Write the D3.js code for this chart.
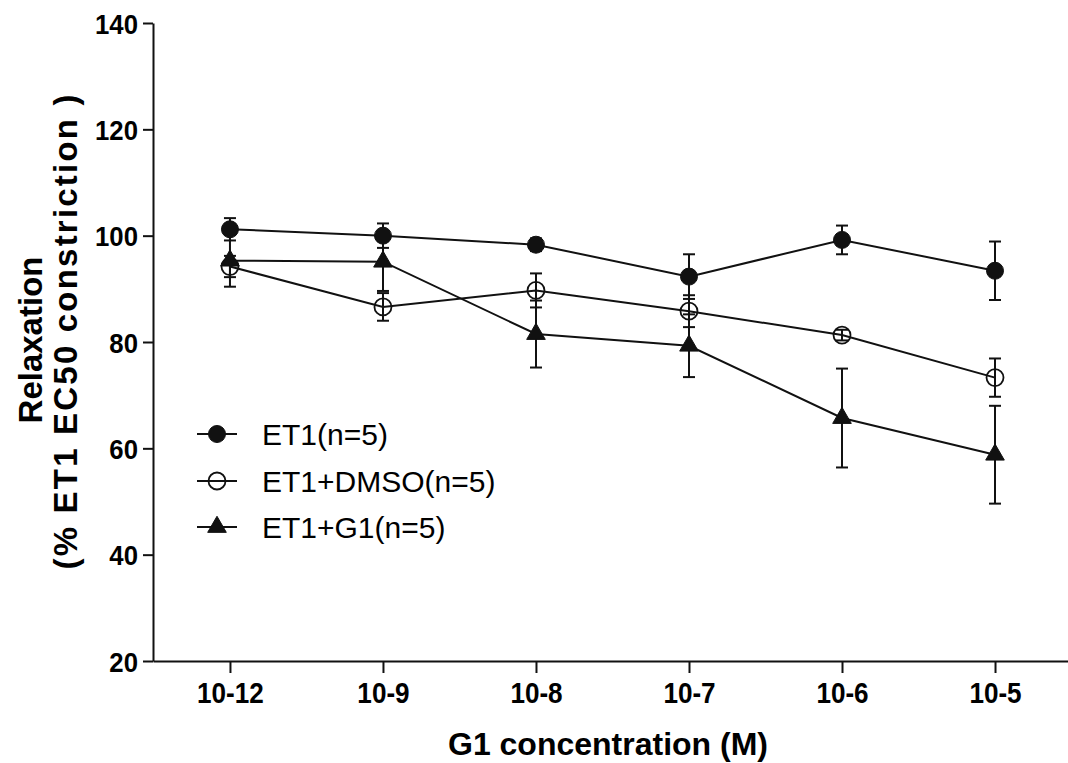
<!DOCTYPE html>
<html><head><meta charset="utf-8">
<script src="https://cdn.jsdelivr.net/npm/d3@7"></script>
<style>body{margin:0;background:#fff}svg{display:block}</style>
</head><body>
<svg id="c" width="1068" height="763"></svg>
<script>
const categories = ["10-12","10-9","10-8","10-7","10-6","10-5"];
const yTicks = [20,40,60,80,100,120,140];
const seriesNames = ["ET1(n=5)","ET1+DMSO(n=5)","ET1+G1(n=5)"];
const et1Mean = [101.2,100.0,98.3,92.3,99.2,93.4];
const et1Sem  = [2.1,2.3,1.2,4.2,2.7,5.5];
const dmsoMean = [94.2,86.6,89.7,85.8,81.3,73.3];
const dmsoSem  = [2.0,2.6,3.2,3.0,1.0,3.6];
const g1Mean = [95.3,95.1,81.5,79.3,65.7,58.8];
const g1Sem  = [4.9,5.5,6.3,5.9,9.3,9.2];

const svg = d3.select("#c");
const x = d3.scaleLinear().domain([-0.503, 5.477]).range([153, 1068]);
const y = d3.scaleLinear().domain([20, 140]).range([661, 23]);
const col = "#111";
const FF = "'Liberation Sans', Arial, sans-serif";

// axes
const gx = svg.append("g").attr("transform","translate(0,661)")
  .call(d3.axisBottom(x).tickValues(d3.range(categories.length)).tickFormat(i=>categories[i]).tickSize(12).tickSizeOuter(0));
gx.selectAll("text").attr("y",42).attr("dy",null)
  .style("font",`bold 29px ${FF}`).attr("fill","#000").attr("transform","scale(0.9,1)");
const gy = svg.append("g").attr("transform","translate(153,0)")
  .call(d3.axisLeft(y).tickValues(yTicks).tickSize(10).tickSizeOuter(0));
const ysx = 0.92;
gy.selectAll("g.tick text").attr("x",-15/ysx).attr("dy","0.36em")
  .style("font",`bold 28px ${FF}`).attr("fill","#000").attr("transform",`scale(${ysx},1)`);
[gx,gy].forEach(g=>{g.selectAll("path,line").attr("stroke",col).attr("stroke-width",2);});

// titles
svg.append("text").attr("x",608).attr("y",755).attr("text-anchor","middle")
  .style("font",`bold 32px ${FF}`).text("G1 concentration (M)");
const yt = svg.append("g").attr("transform","translate(0,340) rotate(-90)");
yt.append("text").attr("x",0).attr("y",42).attr("text-anchor","middle")
  .style("font",`bold 33px ${FF}`).text("Relaxation");
yt.append("text").attr("x",8).attr("y",77).attr("text-anchor","middle")
  .attr("textLength",475).attr("lengthAdjust","spacing")
  .style("font",`bold 33px ${FF}`).text("(% ET1 EC50 constriction )");

const series = [
  {name:seriesNames[0], mean:et1Mean, sem:et1Sem, sym:"circle", fill:col},
  {name:seriesNames[1], mean:dmsoMean, sem:dmsoSem, sym:"circle", fill:"none"},
  {name:seriesNames[2], mean:g1Mean, sem:g1Sem, sym:"triangle", fill:col}
];
const line = d3.line().x((d,i)=>x(i)).y(d=>y(d));
function marker(g, s){
  if(s.sym==="circle"){
    g.append("circle").attr("r",8.5).attr("fill",s.fill).attr("stroke",col).attr("stroke-width",s.fill==="none"?1.8:1);
  } else {
    g.append("path").attr("d",d3.symbol().type(d3.symbolTriangle).size(150)()).attr("fill",col).attr("stroke",col).attr("stroke-width",1);
  }
}
series.forEach(s=>{
  svg.append("path").datum(s.mean).attr("d",line).attr("fill","none").attr("stroke",col).attr("stroke-width",2);
});
series.forEach(s=>{
  const eb = svg.append("g");
  s.mean.forEach((m,i)=>{
    const xi=x(i), y1=y(m+s.sem[i]), y2=y(m-s.sem[i]);
    eb.append("line").attr("x1",xi).attr("x2",xi).attr("y1",y1).attr("y2",y2).attr("stroke",col).attr("stroke-width",2);
    [y1,y2].forEach(yy=>eb.append("line").attr("x1",xi-6).attr("x2",xi+6).attr("y1",yy).attr("y2",yy).attr("stroke",col).attr("stroke-width",2));
  });
});
series.forEach(s=>{
  s.mean.forEach((m,i)=>{
    const g = svg.append("g").attr("transform",`translate(${x(i)},${y(m)})`);
    marker(g,s);
  });
});

// legend
const legY = [434, 481, 527];
series.forEach((s,k)=>{
  const g = svg.append("g").attr("transform",`translate(0,${legY[k]})`);
  g.append("line").attr("x1",197).attr("x2",237).attr("y1",0).attr("y2",0).attr("stroke",col).attr("stroke-width",2);
  const m = g.append("g").attr("transform","translate(217,0)");
  marker(m,s);
  g.append("text").attr("x",262).attr("y",11).style("font",`30px ${FF}`).text(s.name);
});
</script>
</body></html>
